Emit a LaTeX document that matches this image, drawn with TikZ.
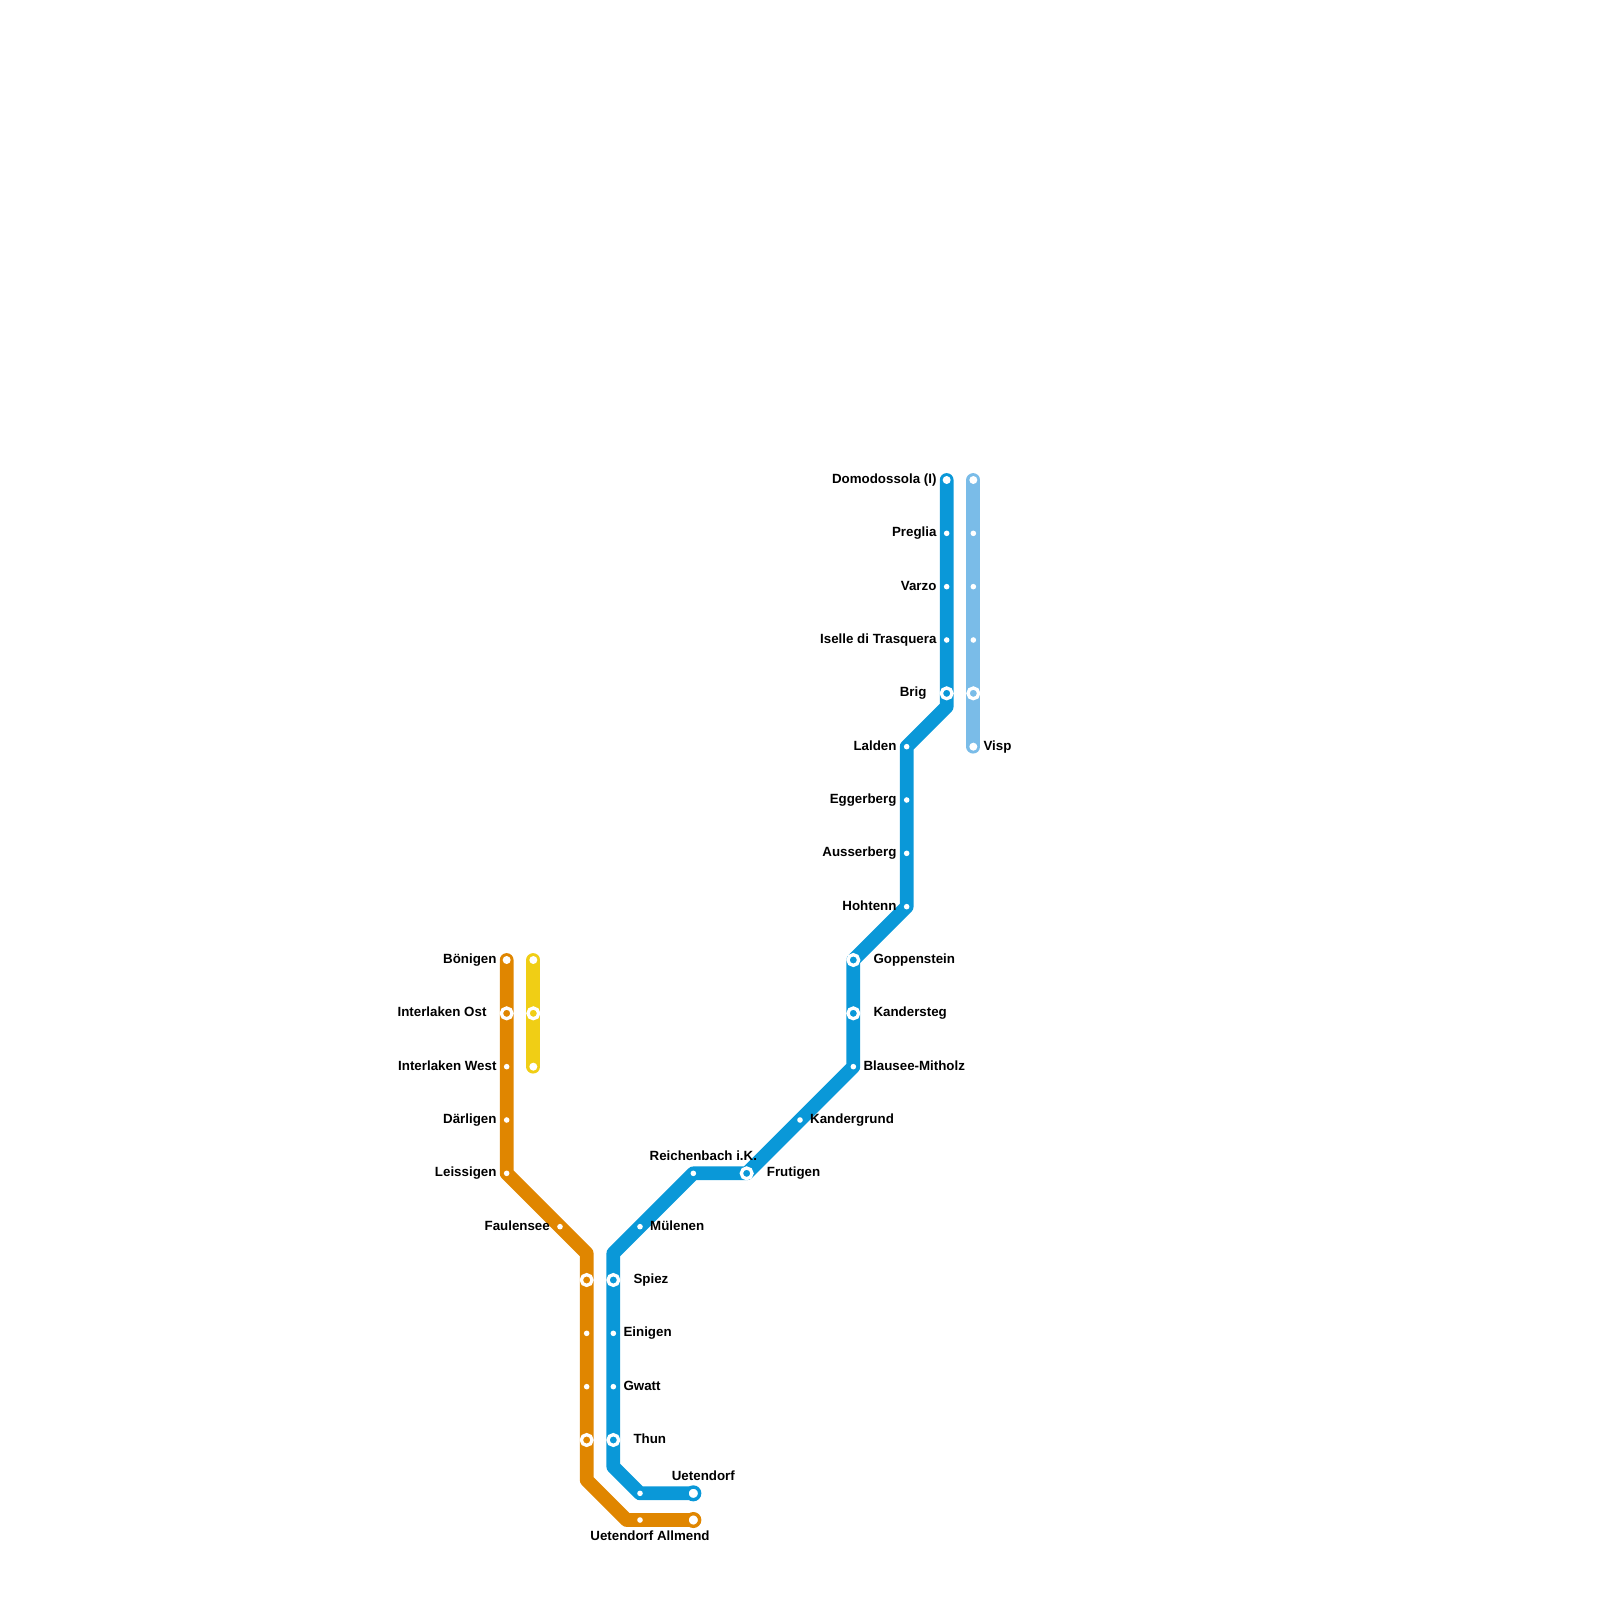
\documentclass[tikz,border=0pt]{standalone}
\usepackage{fontspec}
\setmainfont{Liberation Sans}
\definecolor{orangeline}{HTML}{E08600}
\definecolor{yellowline}{HTML}{F0CE15}
\definecolor{blueline}{HTML}{0A98D8}
\definecolor{paleline}{HTML}{7ABCE8}
\tikzset{
  route/.style={line width=13.8pt,line cap=round,line join=round},
  smallstop/.style={fill=white},
  endstop/.style={fill=white},
  bigend/.style={draw=#1,line width=3.4pt,fill=white},
  hub/.style={draw=white,line width=3.3pt},
  lab/.style={font=\bfseries\fontsize{13.33pt}{14pt}\selectfont,text=black,inner sep=0pt},
  labL/.style={lab,anchor=base east},
  labR/.style={lab,anchor=base west},
  labC/.style={lab,anchor=base},
}
\begin{document}
\begin{tikzpicture}[x=1pt,y=-1pt]
\useasboundingbox (0,0) rectangle (1600,1600);
% orange
\coordinate (oBon) at (506.67,960);
\coordinate (oIo) at (506.67,1013.33);
\coordinate (oIw) at (506.67,1066.67);
\coordinate (oDar) at (506.67,1120);
\coordinate (oLei) at (506.67,1173.33);
\coordinate (oFau) at (560,1226.67);
\coordinate (oC1) at (586.67,1253.33);
\coordinate (oSpi) at (586.67,1280);
\coordinate (oEin) at (586.67,1333.33);
\coordinate (oGwa) at (586.67,1386.67);
\coordinate (oThu) at (586.67,1440);
\coordinate (oC2) at (586.67,1480);
\coordinate (oC3) at (626.67,1520);
\coordinate (oUa) at (640,1520);
\coordinate (oUe) at (693.33,1520);
% yellow
\coordinate (yBon) at (533.33,960);
\coordinate (yIo) at (533.33,1013.33);
\coordinate (yIw) at (533.33,1066.67);
% blue
\coordinate (bUe) at (693.33,1493.33);
\coordinate (bUa) at (640,1493.33);
\coordinate (bC1) at (613.33,1466.67);
\coordinate (bThu) at (613.33,1440);
\coordinate (bGwa) at (613.33,1386.67);
\coordinate (bEin) at (613.33,1333.33);
\coordinate (bSpi) at (613.33,1280);
\coordinate (bC2) at (613.33,1253.33);
\coordinate (bMul) at (640,1226.67);
\coordinate (bRei) at (693.33,1173.33);
\coordinate (bFru) at (746.67,1173.33);
\coordinate (bKgr) at (800,1120);
\coordinate (bBla) at (853.33,1066.67);
\coordinate (bKst) at (853.33,1013.33);
\coordinate (bGop) at (853.33,960);
\coordinate (bHoh) at (906.67,906.67);
\coordinate (bAus) at (906.67,853.33);
\coordinate (bEgg) at (906.67,800);
\coordinate (bLal) at (906.67,746.67);
\coordinate (bC3) at (946.67,706.67);
\coordinate (bBri) at (946.67,693.33);
\coordinate (bIse) at (946.67,640);
\coordinate (bVar) at (946.67,586.67);
\coordinate (bPre) at (946.67,533.33);
\coordinate (bDom) at (946.67,480);
% pale
\coordinate (pDom) at (973.33,480);
\coordinate (pPre) at (973.33,533.33);
\coordinate (pVar) at (973.33,586.67);
\coordinate (pIse) at (973.33,640);
\coordinate (pBri) at (973.33,693.33);
\coordinate (pVis) at (973.33,746.67);
% routes
\draw[route,orangeline] (oBon)--(oLei)--(oC1)--(oC2)--(oC3)--(oUe);
\draw[route,yellowline] (yBon)--(yIw);
\draw[route,blueline] (bUe)--(bUa)--(bC1)--(bC2)--(bRei)--(bFru)--(bBla)--(bGop)--(bHoh)--(bLal)--(bC3)--(bDom);
\draw[route,paleline] (pDom)--(pVis);
% stops
\foreach \p in {oIw,oDar,oLei,oFau,oEin,oGwa,oUa,bUa,bGwa,bEin,bMul,bRei,bKgr,bBla,bHoh,bAus,bEgg,bLal,bIse,bVar,bPre,pPre,pVar,pIse}
  \path[smallstop] (\p) circle[radius=2.8pt];
\foreach \p in {oBon,yBon,yIw,bDom,pDom,pVis}
  \path[endstop] (\p) circle[radius=4pt];
\path[bigend=orangeline] (oUe) circle[radius=6.3pt];
\path[bigend=blueline] (bUe) circle[radius=6.3pt];
\foreach \p in {oIo,yIo,oSpi,oThu,bSpi,bThu,bFru,bKst,bGop,bBri,pBri}
  \path[hub] (\p) circle[radius=5.35pt];
% labels
\node[labL] (lBon) at (496.67,963.5) {Bönigen};
\node[labL] (lIo) at (486.67,1016.8) {Interlaken Ost};
\node[labL] (lIw) at (496.67,1070.2) {Interlaken West};
\node[labL] (lDar) at (496.67,1123.5) {Därligen};
\node[labL] (lLei) at (496.67,1176.8) {Leissigen};
\node[labL] (lFau) at (550,1230.2) {Faulensee};
\node[labR] (lSpi) at (633.33,1283.5) {Spiez};
\node[labR] (lEin) at (623.33,1336.8) {Einigen};
\node[labR] (lGwa) at (623.33,1390.2) {Gwatt};
\node[labR] (lThu) at (633.33,1443.5) {Thun};
\node[labC] (lUe) at (703.33,1480.2) {Uetendorf};
\node[labC] (lUa) at (650,1540.2) {Uetendorf Allmend};
\node[labR] (lMul) at (650,1230.2) {Mülenen};
\node[labC] (lRei) at (703.33,1160.2) {Reichenbach i.K.};
\node[labR] (lFru) at (766.67,1176.8) {Frutigen};
\node[labR] (lKgr) at (810,1123.5) {Kandergrund};
\node[labR] (lBla) at (863.33,1070.2) {Blausee-Mitholz};
\node[labR] (lKst) at (873.33,1016.8) {Kandersteg};
\node[labR] (lGop) at (873.33,963.5) {Goppenstein};
\node[labL] (lHoh) at (896.67,910.2) {Hohtenn};
\node[labL] (lAus) at (896.67,856.8) {Ausserberg};
\node[labL] (lEgg) at (896.67,803.5) {Eggerberg};
\node[labL] (lLal) at (896.67,750.2) {Lalden};
\node[labL] (lBri) at (926.67,696.8) {Brig};
\node[labL] (lIse) at (936.67,643.5) {Iselle di Trasquera};
\node[labL] (lVar) at (936.67,590.2) {Varzo};
\node[labL] (lPre) at (936.67,536.8) {Preglia};
\node[labL] (lDom) at (936.67,483.5) {Domodossola (I)};
\node[labR] (lVis) at (983.33,750.2) {Visp};
\end{tikzpicture}
\end{document}
